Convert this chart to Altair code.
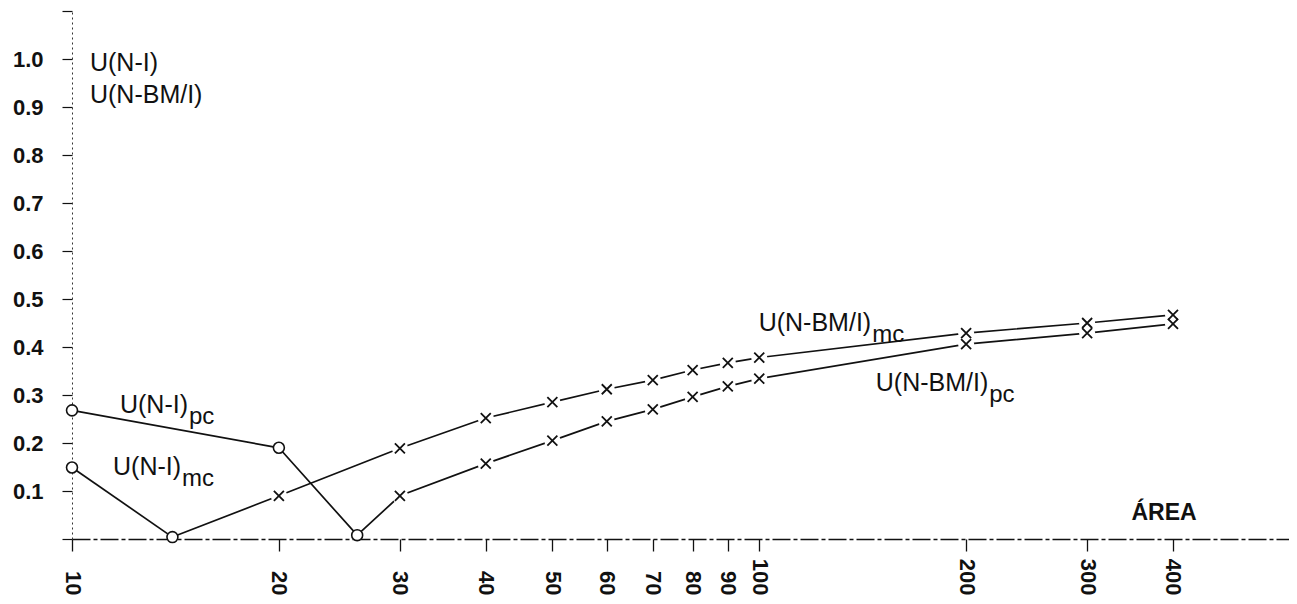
import altair as alt
import pandas as pd

# ---- data ----
ni_pc_x = [10, 20, 26]
ni_pc_y = [0.268, 0.190, 0.008]
ni_mc_x = [10, 14]
ni_mc_y = [0.149, 0.004]
bm_mc_x = [20, 30, 40, 50, 60, 70, 80, 90, 100, 200, 300, 400]
bm_mc_y = [0.090, 0.189, 0.252, 0.285, 0.312, 0.331, 0.352, 0.367, 0.378, 0.429, 0.450, 0.467]
bm_pc_x = [30, 40, 50, 60, 70, 80, 90, 100, 200, 300, 400]
bm_pc_y = [0.090, 0.157, 0.205, 0.245, 0.270, 0.296, 0.318, 0.334, 0.406, 0.429, 0.448]

x_ticks = [10, 20, 30, 40, 50, 60, 70, 80, 90, 100, 200, 300, 400]
y_ticks = [0.0, 0.1, 0.2, 0.3, 0.4, 0.5, 0.6, 0.7, 0.8, 0.9, 1.0, 1.1]

ann_main = ["U(N-I)", "U(N-I)", "U(N-BM/I)", "U(N-BM/I)"]
ann_sub = ["pc", "mc", "mc", "pc"]
ann_x = [14.75, 14.41, 145.5, 215.4]
ann_y = [0.279, 0.150, 0.450, 0.325]

top_text = ["U(N-I)", "U(N-BM/I)"]
top_x = [10.62, 10.62]
top_y = [0.992, 0.925]

area_text = ["ÁREA"]
area_x = [348]
area_y = [0.054]

# ---- tables ----
rows = []
def add(series, xs, ys):
    for i, (a, b) in enumerate(zip(xs, ys)):
        rows.append({"series": series, "x": a, "y": b, "i": i})

add("ni_pc", ni_pc_x, ni_pc_y)
add("ni_mc", ni_mc_x, ni_mc_y)
add("bm_mc", [ni_mc_x[-1]] + bm_mc_x, [ni_mc_y[-1]] + bm_mc_y)
add("bm_pc", [ni_pc_x[-1]] + bm_pc_x, [ni_pc_y[-1]] + bm_pc_y)
lines_df = pd.DataFrame(rows)

circ_df = pd.DataFrame({"x": ni_pc_x + ni_mc_x, "y": ni_pc_y + ni_mc_y})
cross_df = pd.DataFrame({"x": bm_mc_x + bm_pc_x, "y": bm_mc_y + bm_pc_y})
ann_df = pd.DataFrame({"main": ann_main, "sub": ann_sub, "x": ann_x, "y": ann_y})
top_df = pd.DataFrame({"t": top_text, "x": top_x, "y": top_y})
area_df = pd.DataFrame({"t": area_text, "x": area_x, "y": area_y})

FONT = "Liberation Sans"

xscale = alt.Scale(type="log", domain=[10, 590], nice=False)
yscale = alt.Scale(domain=[0, 1.1], nice=False)

xenc = alt.X("x:Q", scale=xscale, axis=alt.Axis(
    values=x_ticks, title=None, grid=False, format="d",
    labelAngle=90, labelAlign="right", labelBaseline="middle",
    labelPadding=44, tickSize=12, tickColor="#111", tickWidth=1.3,
    labelFont=FONT, labelFontWeight="bold", labelFontSize=22, labelColor="#111",
    labelOverlap=False, labelFlush=False,
    domainColor="#111", domainWidth=1.4, domainDash=[18, 3, 4, 3]))
yenc = alt.Y("y:Q", scale=yscale, axis=alt.Axis(
    values=y_ticks, title=None, grid=False,
    labelExpr="datum.value > 0.05 && datum.value < 1.05 ? format(datum.value, '.1f') : ''",
    tickSize=10, tickColor="#111", tickWidth=1.2, labelPadding=19,
    labelFont=FONT, labelFontWeight="bold", labelFontSize=22, labelColor="#111",
    labelOverlap=False, labelFlush=False,
    domainColor="#333", domainWidth=1, domainDash=[2, 3]))

base = alt.Chart(lines_df)

lines = base.mark_line(color="#111", strokeWidth=1.7).encode(
    x=xenc, y=yenc, detail="series:N", order="i:Q")

masks = alt.Chart(cross_df).mark_point(
    shape="circle", filled=True, color="white", size=260, opacity=1).encode(
    x=alt.X("x:Q", scale=xscale), y=alt.Y("y:Q", scale=yscale))

crosses = alt.Chart(cross_df).mark_point(
    shape="M-1,-1L1,1M1,-1L-1,1", filled=False, color="#111",
    strokeWidth=1.8, size=100, opacity=1).encode(
    x=alt.X("x:Q", scale=xscale), y=alt.Y("y:Q", scale=yscale))

circles = alt.Chart(circ_df).mark_point(
    shape="circle", filled=False, fill="white", fillOpacity=1, stroke="#111",
    strokeWidth=1.6, size=120, opacity=1).encode(
    x=alt.X("x:Q", scale=xscale), y=alt.Y("y:Q", scale=yscale))

ann_main_t = alt.Chart(ann_df).mark_text(
    align="right", baseline="middle", font=FONT, fontSize=25, color="#111").encode(
    x=alt.X("x:Q", scale=xscale), y=alt.Y("y:Q", scale=yscale), text="main:N")

ann_sub_t = alt.Chart(ann_df).mark_text(
    align="left", baseline="middle", font=FONT, fontSize=24, color="#111",
    dx=1, dy=12).encode(
    x=alt.X("x:Q", scale=xscale), y=alt.Y("y:Q", scale=yscale), text="sub:N")

top_t = alt.Chart(top_df).mark_text(
    align="left", baseline="middle", font=FONT, fontSize=25, color="#111").encode(
    x=alt.X("x:Q", scale=xscale), y=alt.Y("y:Q", scale=yscale), text="t:N")

area_t = alt.Chart(area_df).mark_text(
    align="left", baseline="middle", font=FONT, fontSize=23, fontWeight="bold",
    color="#111").encode(
    x=alt.X("x:Q", scale=xscale), y=alt.Y("y:Q", scale=yscale), text="t:N")

chart = alt.layer(lines, masks, crosses, circles, ann_main_t, ann_sub_t, top_t, area_t).properties(
    width=1217, height=528,
    autosize=alt.AutoSizeParams(type="none"),
    padding={"left": 64, "top": 3, "right": 0, "bottom": 57},
    background="white",
).configure_view(stroke=None)

chart.save("out.html", embed_options={"renderer": "svg", "actions": False})
